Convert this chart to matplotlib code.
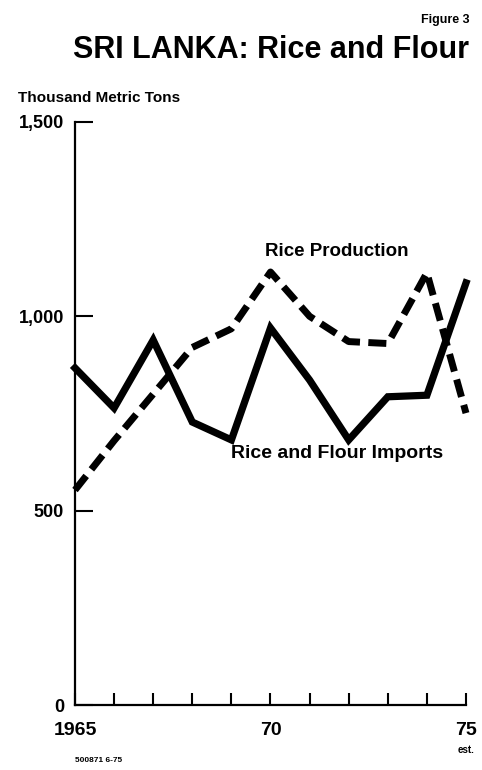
import matplotlib
matplotlib.use("Agg")
import matplotlib.pyplot as plt

# data (thousand metric tons)
years = [1965, 1966, 1967, 1968, 1969, 1970, 1971, 1972, 1973, 1974, 1975]
rice_production = [553, 680, 800, 920, 968, 1114, 1000, 935, 930, 1112, 751]
imports = [867, 764, 939, 728, 682, 970, 836, 682, 793, 797, 1086]

yticks = [0, 500, 1000, 1500]
ytick_labels = ["0", "500", "1,000", "1,500"]
xtick_labels = {1965: "1965", 1970: "70", 1975: "75"}

fam = ["Liberation Sans", "DejaVu Sans"]
plt.rcParams["font.family"] = fam
plt.rcParams["font.weight"] = "bold"

fig = plt.figure(figsize=(4.82, 7.70), dpi=100)
ax = fig.add_axes([0.1556, 0.0844, 0.8112, 0.7572])

ax.plot(years, imports, color="black", lw=5.2, solid_joinstyle="miter",
        clip_on=False)
ax.plot(years, rice_production, color="black", lw=5.0, dashes=(2.6, 1.2),
        clip_on=False)

ax.set_xlim(1965, 1975)
ax.set_ylim(0, 1500)
for s in ["top", "right"]:
    ax.spines[s].set_visible(False)
for s in ["left", "bottom"]:
    ax.spines[s].set_linewidth(1.6)

ax.set_yticks(yticks)
ax.set_yticklabels(ytick_labels, fontsize=13, fontweight="bold")
ax.set_xticks(years)
ax.set_xticklabels([xtick_labels.get(y, "") for y in years], fontsize=14,
                   fontweight="bold")
ax.tick_params(axis="x", direction="in", length=9, width=1.5, pad=12)
ax.tick_params(axis="y", direction="in", length=13, width=1.5, pad=8)

ax.text(1975, -104, "est.", ha="center", va="top", fontsize=7,
        fontweight="bold")
ax.text(1969.85, 1145, "Rice Production", ha="left", va="bottom",
        fontsize=13.5, fontweight="bold")
ax.text(1969.0, 625, "Rice and Flour Imports", ha="left", va="bottom",
        fontsize=14, fontweight="bold")

fig.text(0.975, 0.982, "Figure 3", ha="right", va="top", fontsize=9,
         fontweight="bold")
fig.text(0.972, 0.955, "SRI LANKA: Rice and Flour", ha="right", va="top",
         fontsize=22, fontweight="bold")
fig.text(0.037, 0.882, "Thousand Metric Tons", ha="left", va="top",
         fontsize=11, fontweight="bold")
fig.text(0.155, 0.008, "500871 6-75", ha="left", va="bottom", fontsize=6,
         fontweight="bold")

fig.savefig("out.png", dpi=100)
